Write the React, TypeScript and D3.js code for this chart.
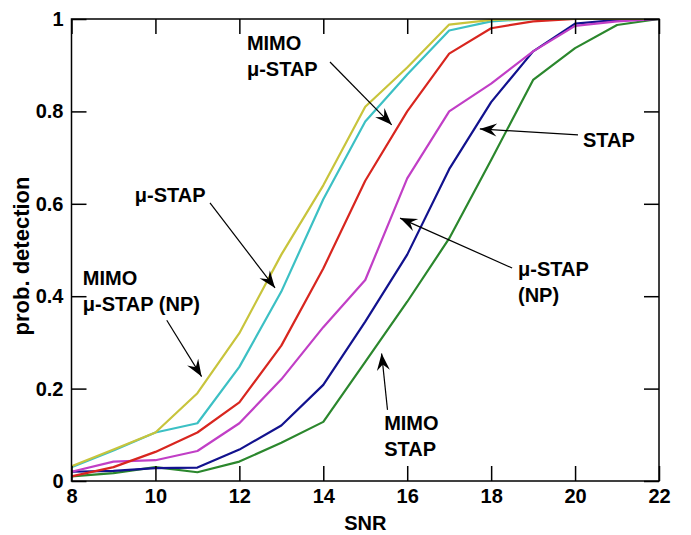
import React, { useEffect, useRef } from 'react';
import * as d3 from 'd3';

// SNR grid (dB) and detection probabilities
const snr = [8, 9, 10, 11, 12, 13, 14, 15, 16, 17, 18, 19, 20, 21, 22];

const mimoMuStapNP = [0.032, 0.068, 0.105, 0.19, 0.32, 0.49, 0.64, 0.81, 0.895, 0.988, 0.998, 1, 1, 1, 1];
const muStap = [0.03, 0.066, 0.105, 0.125, 0.247, 0.41, 0.61, 0.778, 0.88, 0.975, 0.995, 1, 1, 1, 1];
const mimoMuStap = [0.01, 0.03, 0.063, 0.105, 0.17, 0.293, 0.46, 0.65, 0.8, 0.925, 0.98, 0.995, 1, 1, 1];
const muStapNP = [0.02, 0.042, 0.045, 0.065, 0.125, 0.22, 0.333, 0.435, 0.655, 0.8, 0.86, 0.93, 0.985, 0.995, 1];
const stap = [0.02, 0.022, 0.028, 0.029, 0.068, 0.12, 0.208, 0.345, 0.49, 0.675, 0.82, 0.93, 0.99, 0.998, 1];
const mimoStap = [0.01, 0.017, 0.03, 0.019, 0.042, 0.083, 0.128, 0.258, 0.388, 0.525, 0.695, 0.868, 0.937, 0.987, 1];

const seriesList = [
  { values: mimoStap, color: '#2b872d' },
  { values: stap, color: '#12128e' },
  { values: muStapNP, color: '#c13fc6' },
  { values: mimoMuStap, color: '#d8261f' },
  { values: muStap, color: '#3cc0c4' },
  { values: mimoMuStapNP, color: '#c8c43c' },
];

const xTicks = [8, 10, 12, 14, 16, 18, 20, 22];
const yTicks = [0, 0.2, 0.4, 0.6, 0.8, 1];

// annotations in data units: text lines, text anchor, arrow from -> to
const notes = [
  { lines: ['MIMO', 'μ-STAP'], at: [12.18, 0.933], from: [14.16, 0.907], to: [15.63, 0.771] },
  { lines: ['μ-STAP'], at: [9.51, 0.604], from: [11.3, 0.602], to: [12.85, 0.418] },
  { lines: ['MIMO', 'μ-STAP (NP)'], at: [8.27, 0.424], from: [10.27, 0.348], to: [11.1, 0.226] },
  { lines: ['STAP'], at: [20.19, 0.723], from: [20.07, 0.749], to: [17.73, 0.762] },
  { lines: ['μ-STAP', '(NP)'], at: [18.64, 0.444], from: [18.5, 0.461], to: [15.83, 0.569] },
  { lines: ['MIMO', 'STAP'], at: [15.45, 0.11], from: [15.53, 0.154], to: [15.39, 0.276] },
];

const width = 691;
const height = 535;

const App = () => {
  const svgRef = useRef<SVGSVGElement>(null);

  useEffect(() => {
    const svg = d3.select(svgRef.current);
    svg.selectAll('*').remove();

    const margin = { top: 19, right: 32, bottom: 54, left: 71.5 };
    const innerWidth = width - margin.left - margin.right;
    const innerHeight = height - margin.top - margin.bottom;
    const font = 'Arial, "Liberation Sans", sans-serif';

    svg.append('rect').attr('width', width).attr('height', height).attr('fill', '#fff');

    const g = svg.append('g').attr('transform', `translate(${margin.left},${margin.top})`);

    const x = d3.scaleLinear().domain([8, 22]).range([0, innerWidth]);
    const y = d3.scaleLinear().domain([0, 1]).range([innerHeight, 0]);

    g.append('clipPath').attr('id', 'plot-clip')
      .append('rect').attr('width', innerWidth).attr('height', innerHeight);

    // curves
    const line = d3.line<number>()
      .x((_, i) => x(snr[i]))
      .y(d => y(d));

    const curves = g.append('g').attr('clip-path', 'url(#plot-clip)');
    seriesList.forEach(s => {
      curves.append('path')
        .datum(s.values)
        .attr('d', line)
        .attr('fill', 'none')
        .attr('stroke', s.color)
        .attr('stroke-width', 2.2)
        .attr('stroke-linejoin', 'round');
    });

    // axes with inward ticks on all four sides
    const tickLen = 15;
    const axisStyle = (sel: any) => {
      sel.select('.domain').remove();
      sel.selectAll('line').attr('stroke', '#000').attr('stroke-width', 1.5);
      sel.selectAll('text')
        .attr('fill', '#000')
        .style('font-family', font)
        .style('font-size', '20px')
        .style('font-weight', 'bold');
    };

    g.append('g')
      .attr('transform', `translate(0,${innerHeight})`)
      .call(d3.axisBottom(x).tickValues(xTicks).tickSize(-tickLen).tickPadding(9).tickFormat(d3.format('d')))
      .call(axisStyle)
      .call(a => a.selectAll('text').attr('y', 22).attr('dy', 0));

    g.append('g')
      .call(d3.axisTop(x).tickValues(xTicks).tickSize(-tickLen).tickFormat(() => ''))
      .call(axisStyle);

    g.append('g')
      .call(d3.axisLeft(y).tickValues(yTicks).tickSize(-tickLen).tickPadding(8).tickFormat(d => (d === 0 || d === 1 ? d3.format('d')(d) : d3.format('.1f')(d))))
      .call(axisStyle);

    g.append('g')
      .attr('transform', `translate(${innerWidth},0)`)
      .call(d3.axisRight(y).tickValues(yTicks).tickSize(-tickLen).tickFormat(() => ''))
      .call(axisStyle);

    g.append('rect')
      .attr('width', innerWidth)
      .attr('height', innerHeight)
      .attr('fill', 'none')
      .attr('stroke', '#000')
      .attr('stroke-width', 1.5);

    // axis labels
    svg.append('text')
      .attr('x', margin.left + innerWidth / 2)
      .attr('y', 530)
      .attr('text-anchor', 'middle')
      .style('font-family', font)
      .style('font-size', '20px')
      .style('font-weight', 'bold')
      .text('SNR');

    svg.append('text')
      .attr('transform', `translate(28.5,${margin.top + 237}) rotate(-90)`)
      .attr('text-anchor', 'middle')
      .style('font-family', font)
      .style('font-size', '22px')
      .style('font-weight', 'bold')
      .text('prob. detection');

    // annotations
    notes.forEach(n => {
      const t = g.append('text')
        .attr('x', x(n.at[0]))
        .attr('y', y(n.at[1]))
        .style('font-family', font)
        .style('font-size', '20px')
        .style('font-weight', 'bold');
      n.lines.forEach((l, i) => {
        t.append('tspan').attr('x', x(n.at[0])).attr('dy', i === 0 ? 0 : 26).text(l);
      });

      const x0 = x(n.from[0]), y0 = y(n.from[1]);
      const x1 = x(n.to[0]), y1 = y(n.to[1]);
      const ang = Math.atan2(y1 - y0, x1 - x0) * 180 / Math.PI;
      g.append('line')
        .attr('x1', x0).attr('y1', y0)
        .attr('x2', x1).attr('y2', y1)
        .attr('stroke', '#000')
        .attr('stroke-width', 1.2);
      g.append('path')
        .attr('d', 'M0,0 L-17,-6.5 L-11,0 L-17,6.5 Z')
        .attr('transform', `translate(${x1},${y1}) rotate(${ang})`)
        .attr('fill', '#000');
    });
  }, []);

  return (
    <svg
      ref={svgRef}
      width={width}
      height={height}
      style={{ position: 'absolute', left: 0, top: 0 }}
    />
  );
};

export default App;
